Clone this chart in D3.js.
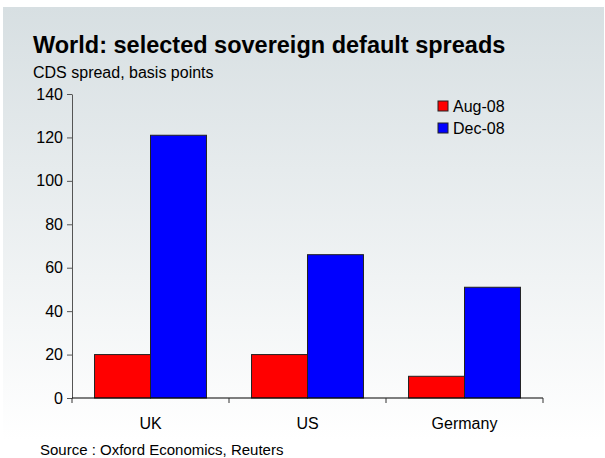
<!DOCTYPE html>
<html lang="en">
<head>
    <meta charset="UTF-8">
    <title>World: selected sovereign default spreads</title>
    <style type="text/css">
        * {
            margin: 0;
            padding: 0;
        }
        body {
            background: #fff;
        }
        svg text {
            font-family: "Liberation Sans", Arial, sans-serif;
        }
    </style>
</head>
<body>
<div id="chart-area"></div>
<script src="https://cdn.jsdelivr.net/npm/d3@7/dist/d3.min.js"></script>
<script type="text/javascript">

  const countries = ['UK', 'US', 'Germany']
  const seriesNames = ['Aug-08', 'Dec-08']
  const aug08 = [20, 20, 10]
  const dec08 = [121, 66, 51]
  const yTicks = [0, 20, 40, 60, 80, 100, 120, 140]
  const colorRange = ['#ff0000', '#0000ff']

  const W = 605, H = 458
  const PLOT = {LEFT: 72, RIGHT: 543, TOP: 94, BOTTOM: 398}

  const svg = d3.select('#chart-area').append('svg')
    .attr('width', W)
    .attr('height', H)

  const grad = svg.append('defs').append('linearGradient')
    .attr('id', 'bg').attr('x1', 0).attr('y1', 0).attr('x2', 0).attr('y2', 1)
  grad.append('stop').attr('offset', '0%').attr('stop-color', '#d7dfe2')
  grad.append('stop').attr('offset', '100%').attr('stop-color', '#ffffff')

  svg.append('rect')
    .attr('x', 3).attr('y', 7)
    .attr('width', 601).attr('height', 433)
    .attr('fill', 'url(#bg)')

  svg.append('text')
    .attr('x', 33).attr('y', 53)
    .attr('font-size', '23.5px')
    .attr('font-weight', 'bold')
    .text('World: selected sovereign default spreads')

  svg.append('text')
    .attr('x', 33).attr('y', 78)
    .attr('font-size', '16px')
    .text('CDS spread, basis points')

  svg.append('text')
    .attr('x', 40).attr('y', 455)
    .attr('font-size', '15px')
    .text('Source : Oxford Economics, Reuters')

  const x = d3.scaleBand().domain(countries)
    .range([PLOT.LEFT, PLOT.RIGHT])
    .paddingInner(0.287)
    .paddingOuter(0.1435)

  const xOuter = d3.scaleBand().domain(countries).range([PLOT.LEFT, PLOT.RIGHT])

  const xSub = d3.scaleBand().domain(seriesNames).range([0, x.bandwidth()])

  const y = d3.scaleLinear().domain([0, 140]).range([PLOT.BOTTOM, PLOT.TOP])

  const colors = d3.scaleOrdinal().domain(seriesNames).range(colorRange)

  // y axis
  svg.append('g')
    .attr('transform', `translate(${PLOT.LEFT}, 0)`)
    .call(d3.axisLeft(y).tickValues(yTicks).tickSizeOuter(0).tickSizeInner(5).tickPadding(4))
    .call(g => g.select('.domain').attr('stroke', '#555'))
    .call(g => g.selectAll('.tick line').attr('stroke', '#555'))
    .call(g => g.selectAll('.tick text')
      .attr('font-size', '16px')
      .attr('fill', '#000')
      .attr('font-family', '"Liberation Sans", Arial, sans-serif'))

  // bars
  const rows = countries.map((c, i) => ({country: c, values: [aug08[i], dec08[i]]}))
  svg.append('g').selectAll('g')
    .data(rows)
    .join('g')
    .attr('transform', d => `translate(${x(d.country)}, 0)`)
    .selectAll('rect')
    .data(d => d.values.map((v, i) => ({key: seriesNames[i], value: v})))
    .join('rect')
    .attr('x', d => xSub(d.key))
    .attr('width', xSub.bandwidth())
    .attr('y', d => y(d.value))
    .attr('height', d => y(0) - y(d.value))
    .attr('fill', d => colors(d.key))
    .attr('stroke', '#222')
    .attr('stroke-width', 1)

  // x axis with ticks between categories
  const xAxis = svg.append('g')
    .attr('transform', `translate(0, ${PLOT.BOTTOM})`)
  xAxis.append('line')
    .attr('x1', PLOT.LEFT).attr('x2', PLOT.RIGHT)
    .attr('stroke', '#000')
  const boundaries = [PLOT.LEFT].concat(countries.map(c => xOuter(c) + xOuter.bandwidth()))
  xAxis.selectAll('.bt')
    .data(boundaries)
    .join('line')
    .attr('class', 'bt')
    .attr('x1', d => d).attr('x2', d => d)
    .attr('y1', 0).attr('y2', 5)
    .attr('stroke', '#333')
  xAxis.selectAll('.lbl')
    .data(countries)
    .join('text')
    .attr('class', 'lbl')
    .attr('x', d => xOuter(d) + xOuter.bandwidth() / 2)
    .attr('y', 31)
    .attr('text-anchor', 'middle')
    .attr('font-size', '16px')
    .text(d => d)

  // legend
  const legend = svg.append('g').selectAll('g')
    .data(seriesNames)
    .join('g')
    .attr('transform', (d, i) => `translate(438, ${101 + i * 22})`)
  legend.append('rect')
    .attr('width', 10).attr('height', 10)
    .attr('fill', d => colors(d))
    .attr('stroke', '#222')
  legend.append('text')
    .attr('x', 15).attr('y', 11)
    .attr('font-size', '16px')
    .text(d => d)

</script>
</body>
</html>
